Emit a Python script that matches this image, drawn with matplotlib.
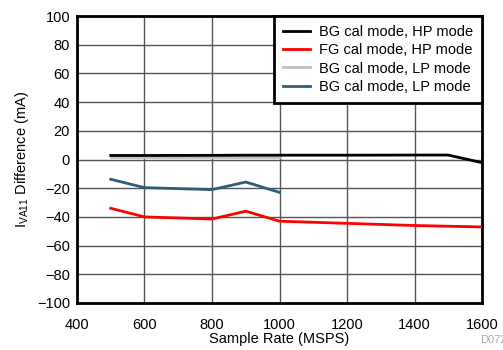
import matplotlib
matplotlib.use("Agg")
import matplotlib.pyplot as plt

plt.rcParams['font.family'] = ['Liberation Sans', 'DejaVu Sans']

x_full = [500, 600, 800, 900, 1000, 1200, 1400, 1500, 1600]
bg_hp = [2.8, 2.8, 2.9, 3.0, 3.0, 3.0, 3.1, 3.1, -2.2]
x_fg = [500, 600, 800, 900, 1000, 1200, 1400, 1600]
fg_hp = [-34, -40, -41.5, -36, -43, -44.5, -46, -47]
x_lp = [500, 600, 800, 900, 1000]
bg_lp = [1.5, 1.5, 1.5, 1.5, 1.5]
bg_lp2 = [-13.8, -19.6, -21, -15.7, -22.9]

labels = ["BG cal mode, HP mode", "FG cal mode, HP mode",
          "BG cal mode, LP mode", "BG cal mode, LP mode"]
colors = ["#000000", "#ff0000", "#c0c0c0", "#2e5e78"]

fig = plt.figure(figsize=(5.03, 3.5), dpi=100)
ax = fig.add_axes([77/503, 47/350, 405/503, 287/350])

ax.plot(x_lp, bg_lp, color=colors[2], lw=2, label=labels[2], zorder=3)
ax.plot(x_full, bg_hp, color=colors[0], lw=2, label=labels[0], zorder=4)
ax.plot(x_fg, fg_hp, color=colors[1], lw=2, label=labels[1], zorder=4)
ax.plot(x_lp, bg_lp2, color=colors[3], lw=2, label=labels[3], zorder=4)

ax.set_xlim(400, 1600)
ax.set_ylim(-100, 100)
ax.set_xticks(range(400, 1601, 200))
ax.set_yticks(range(-100, 101, 20))
ax.grid(True, color="#555555", lw=1)
ax.set_axisbelow(True)
for s in ax.spines.values():
    s.set_linewidth(2)
ax.tick_params(axis="x", labelsize=10.5, length=0, pad=11)
ax.tick_params(axis="y", labelsize=10.5, length=0, pad=5)
ax.set_xlabel("Sample Rate (MSPS)", fontsize=10.5, labelpad=0)
ax.set_ylabel(r"I$_{\mathregular{VA11}}$ Difference (mA)", fontsize=10.5, labelpad=4)

h, l = ax.get_legend_handles_labels()
order = [1, 2, 0, 3]
leg = ax.legend([h[i] for i in order], [l[i] for i in order],
                loc="upper right", bbox_to_anchor=(1.0, 1.0), fontsize=10.5,
                frameon=True, fancybox=False, framealpha=1, edgecolor="black",
                borderpad=0.6, labelspacing=0.3, handlelength=1.9, handletextpad=0.6,
                borderaxespad=0.0)
leg.get_frame().set_linewidth(2)

fig.text(480/503, 5/350, "D072", fontsize=8, color="#aaaaaa", ha="left", va="bottom")

fig.savefig("out.png", dpi=100)
